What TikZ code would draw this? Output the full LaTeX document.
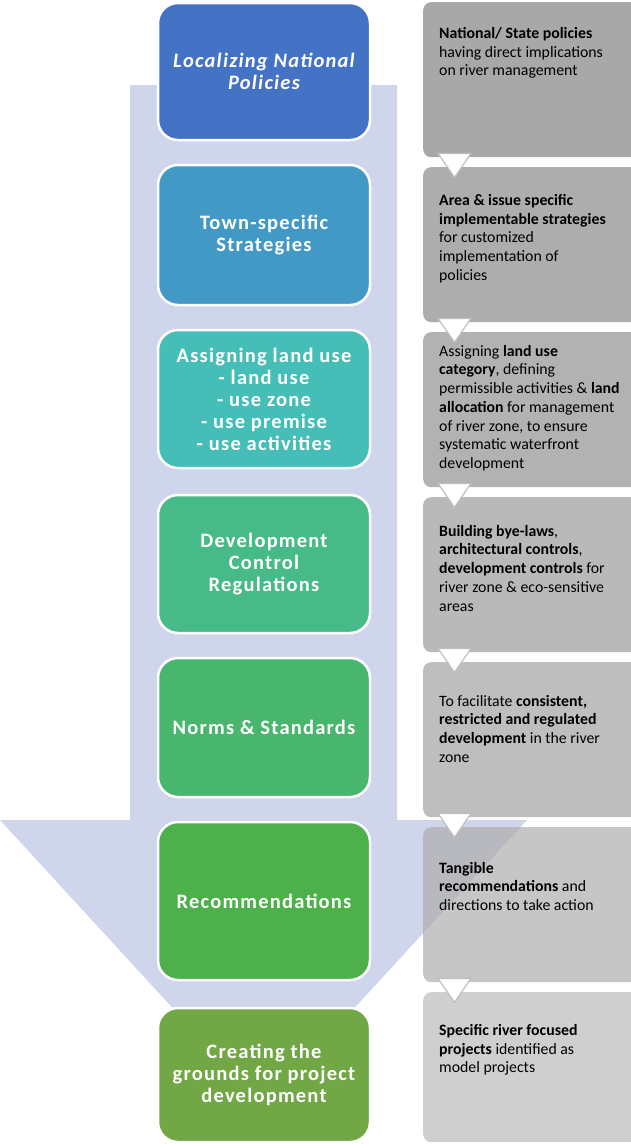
\documentclass[tikz,border=0pt]{standalone}
\usepackage{fontspec}
\setmainfont{Carlito}
\newfontfamily\stepfont{Carlito}[LetterSpace=6]
\usepackage{xcolor}
\usepackage{tikz}
\usetikzlibrary{calc,positioning}

\definecolor{arrowbg}{HTML}{CFD5EA}
\definecolor{c1}{HTML}{4472C4}
\definecolor{c2}{HTML}{4299C5}
\definecolor{c3}{HTML}{44BEB7}
\definecolor{c4}{HTML}{46BB88}
\definecolor{c5}{HTML}{48B66C}
\definecolor{c6}{HTML}{4DB04A}
\definecolor{c7}{HTML}{71A845}
\definecolor{g1}{HTML}{838383}
\definecolor{g2}{HTML}{8A8A8A}
\definecolor{g3}{HTML}{929292}
\definecolor{g4}{HTML}{9B9B9B}
\definecolor{g5}{HTML}{A2A2A2}
\definecolor{g6}{HTML}{AEAEAE}
\definecolor{g7}{HTML}{BABABA}
\definecolor{tri}{HTML}{BFBFBF}

\begin{document}
\begin{tikzpicture}[x=1pt,y=-1pt]

% \draw[step=10,gray,very thin] (0,0) grid (630,1144);

\tikzstyle{stepbox} = [rectangle, rounded corners=20pt, draw=white, line width=2.5pt, minimum width=212pt, text=white, align=center, font=\stepfont\fontsize{20.5}{22}\selectfont\bfseries]
\tikzstyle{infobox} = [rectangle, rounded corners=8pt, anchor=north west, fill opacity=0.7, minimum width=240pt, minimum height=155pt, inner sep=0pt]
\tikzstyle{infotext} = [anchor=north west, align=left, inner sep=0pt, font=\fontsize{15.8}{18.7}\selectfont]
\tikzstyle{pointer} = [fill=white, draw=tri, line width=1.2pt, line join=round]

\useasboundingbox (0,0) rectangle (630,1144);

% big arrow behind everything
\fill [arrowbg] (130,85) -- (397,85) -- (397,820) -- (527,820) -- (263.5,1107) -- (0,820) -- (130,820) -- cycle;

% grey boxes on the right
\node (g1) [infobox,fill=g1] at (423,2) {};
\node (g2) [infobox,fill=g2] at (423,167) {};
\node (g3) [infobox,fill=g3] at (423,332) {};
\node (g4) [infobox,fill=g4] at (423,497) {};
\node (g5) [infobox,fill=g5] at (423,662) {};
\node (g6) [infobox,fill=g6] at (423,827) {};
\node (g7) [infobox,fill=g7,minimum height=150pt] at (423,992) {};

\foreach \g in {g1,g2,g3,g4,g5,g6}
  \draw [pointer] ($(\g.south west)+(15,-4)$) -- ++(33,0) -- ++(-16.5,24) -- cycle;

\node (t1) [infotext] at ($(g1.north west)+(16,25)$) {\textbf{National/ State policies}\\having direct implications\\on river management};
\node (t2) [infotext] at ($(g2.north west)+(16,27)$) {\textbf{Area \& issue specific}\\\textbf{implementable strategies}\\for customized\\implementation of\\policies};
\node (t3) [infotext] at ($(g3.north west)+(16,13)$) {Assigning \textbf{land use}\\\textbf{category}, defining\\permissible activities \& \textbf{land}\\\textbf{allocation} for management\\of river zone, to ensure\\systematic waterfront\\development};
\node (t4) [infotext] at ($(g4.north west)+(16,28)$) {\textbf{Building bye-laws},\\\textbf{architectural controls},\\\textbf{development controls} for\\river zone \& eco-sensitive\\areas};
\node (t5) [infotext] at ($(g5.north west)+(16,33)$) {To facilitate \textbf{consistent,}\\\textbf{restricted and regulated}\\\textbf{development} in the river\\zone};
\node (t6) [infotext] at ($(g6.north west)+(16,35)$) {\textbf{Tangible}\\\textbf{recommendations} and\\directions to take action};
\node (t7) [infotext] at ($(g7.north west)+(16,32)$) {\textbf{Specific river focused}\\\textbf{projects} identified as\\model projects};

% coloured steps
\node (s1) [stepbox,fill=c1,minimum height=137pt] at (264,71.5) {\itshape Localizing National\\\itshape Policies};
\node (s2) [stepbox,fill=c2,minimum height=140pt] at (264,235) {Town-specific\\Strategies};
\node (s3) [stepbox,fill=c3,minimum height=138pt] at (264,399) {Assigning land use\\- land use\\- use zone\\- use premise\\- use activities};
\node (s4) [stepbox,fill=c4,minimum height=138pt] at (264,564) {Development\\Control\\Regulations};
\node (s5) [stepbox,fill=c5,minimum height=139pt] at (264,727.5) {Norms \& Standards};
\node (s6) [stepbox,fill=c6,minimum height=158pt] at (264,901) {Recommendations};
\node (s7) [stepbox,fill=c7,minimum height=134pt] at (264,1075) {Creating the\\grounds for project\\development};

\end{tikzpicture}
\end{document}
